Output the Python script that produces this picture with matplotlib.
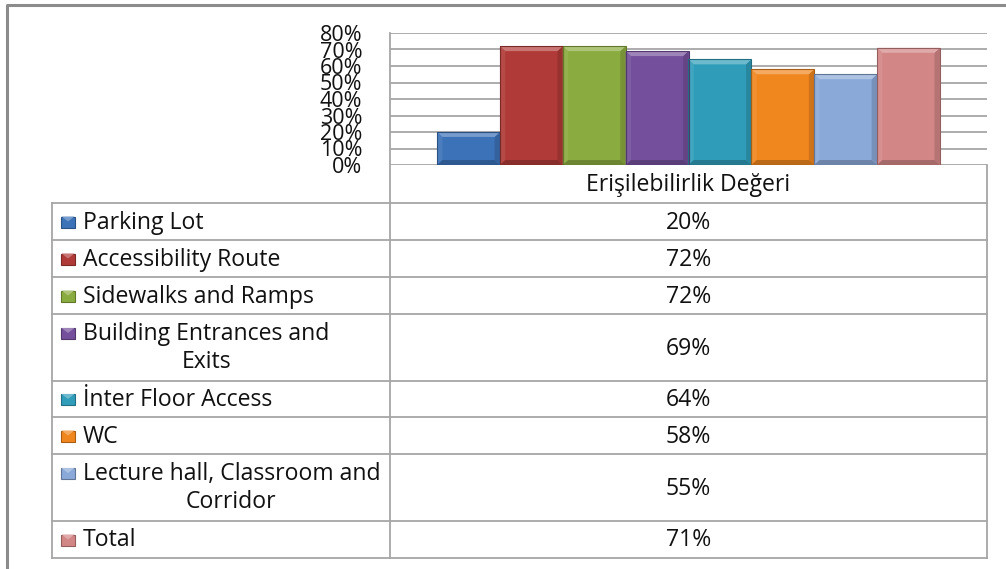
import matplotlib
matplotlib.use("Agg")
import matplotlib.pyplot as plt
from matplotlib.patches import Polygon, Rectangle
import matplotlib.colors as mcolors
import numpy as np

# series (one category, eight series) and table contents
header = "Erişilebilirlik Değeri"
categories = ["Parking Lot", "Accessibility Route", "Sidewalks and Ramps",
              "Building Entrances and\nExits", "İnter Floor Access", "WC",
              "Lecture hall, Classroom and\nCorridor", "Total"]
values = [20, 72, 72, 69, 64, 58, 55, 71]
colors = ["#3b72b8", "#b03a37", "#8aab3f", "#744f9b",
          "#2f9db9", "#f0861e", "#8aa9d8", "#d38686"]
yticks = [0, 10, 20, 30, 40, 50, 60, 70, 80]

W, H = 1006, 569
FONT = "Open Sans"
FS = 16.6
GRID = "#a6a6a6"
TXT = "#111111"

fig = plt.figure(figsize=(W / 100, H / 100), dpi=100)


def fx(px):
    return px / W


def fy(py):
    return 1 - py / H


# chart area
x0, x1, ytop, ybot = 390, 987, 33, 165
ax = fig.add_axes([fx(x0), fy(ybot), fx(x1 - x0), fy(ytop) - fy(ybot)])
ax.set_xlim(-1.25, len(values) + 0.25)
ax.set_ylim(0, 80)
for s in ax.spines.values():
    s.set_visible(False)
ax.set_xticks([])
ax.set_yticks(yticks)
ax.set_yticklabels([f"{t}%" for t in yticks], fontfamily=FONT, fontsize=15.5,
                   color=TXT)
ax.tick_params(axis="y", length=0, pad=20)
for t in yticks:
    ax.axhline(t, color=GRID, lw=1.3, zorder=0)


def shade(c, f):
    r = np.array(mcolors.to_rgb(c))
    if f > 0:
        r = r + (1 - r) * f
    else:
        r = r * (1 + f)
    return tuple(np.clip(r, 0, 1))


# bars with a bevelled look
bars = ax.bar(range(len(values)), values, width=1.0, color=colors,
              edgecolor="none", zorder=2)
dx, dy = 0.085, 3.0
for b, c in zip(bars, colors):
    l, r = b.get_x(), b.get_x() + b.get_width()
    t = b.get_height()
    faces = [
        ([(l, 0), (l, t), (l + dx, t - dy), (l + dx, dy)], shade(c, 0.08)),
        ([(r, 0), (r, t), (r - dx, t - dy), (r - dx, dy)], shade(c, -0.14)),
        ([(l, 0), (r, 0), (r - dx, dy), (l + dx, dy)], shade(c, -0.22)),
        ([(l, t), (r, t), (r - dx, t - dy), (l + dx, t - dy)], shade(c, 0.3)),
    ]
    for pts, fc in faces:
        ax.add_patch(Polygon(pts, closed=True, fc=fc, ec="none", zorder=3))
    ax.add_patch(Rectangle((l, 0), r - l, t, fill=False,
                           ec=shade(c, -0.3), lw=0.8, zorder=4))

# overlay in pixel coordinates for the data table and frame
ov = fig.add_axes([0, 0, 1, 1])
ov.set_xlim(0, W)
ov.set_ylim(H, 0)
ov.axis("off")

# outer frame
ov.plot([7, 7, W + 5], [H + 5, 5, 5], color="#8c8c8c", lw=2.2,
        solid_capstyle="butt")

row_edges = [203, 240, 277, 314, 381, 417, 454, 521, 558]
tl, tr = 52, 987
for y in row_edges:
    ov.plot([tl, tr], [y, y], color=GRID, lw=1.3)
ov.plot([x0, x0], [ytop, row_edges[-1]], color=GRID, lw=1.3)
ov.plot([tl, tl], [row_edges[0], row_edges[-1]], color=GRID, lw=1.3)
ov.plot([tr, tr], [ybot, row_edges[-1]], color=GRID, lw=1.3)

ov.text((x0 + tr) / 2, (ybot + row_edges[0]) / 2 + 1, header,
        fontfamily=FONT, fontsize=FS, color=TXT, ha="center", va="center")

second_line_x = {3: 207, 6: 231}
for i, (name, v, c) in enumerate(zip(categories, values, colors)):
    top, bot = row_edges[i], row_edges[i + 1]
    mid = (top + bot) / 2
    lines = name.split("\n")
    y1 = mid if len(lines) == 1 else top + 19
    # legend key
    ov.add_patch(Rectangle((61, y1 - 5), 14, 11, fc=c, ec=shade(c, -0.3),
                           lw=0.8))
    ov.add_patch(Polygon([(61.5, y1 - 5), (74.5, y1 - 5), (68, y1)],
                         closed=True, fc=shade(c, 0.3), ec="none"))
    ov.text(83, y1 + 1, lines[0], fontfamily=FONT, fontsize=FS, color=TXT,
            ha="left", va="center")
    if len(lines) > 1:
        ov.text(second_line_x[i], top + 48, lines[1], fontfamily=FONT,
                fontsize=FS, color=TXT, ha="center", va="center")
    ov.text((x0 + tr) / 2, mid + 1, f"{v}%", fontfamily=FONT, fontsize=FS,
            color=TXT, ha="center", va="center")

fig.savefig("out.png", dpi=100)
